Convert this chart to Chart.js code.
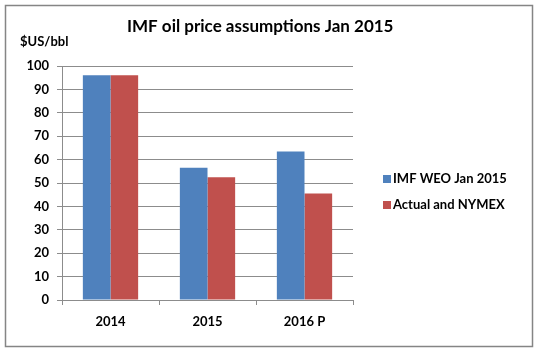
<!DOCTYPE html>
<html>
<head>
<meta charset="utf-8">
<script src="https://cdn.jsdelivr.net/npm/chart.js@4"></script>
<style>
  html, body { margin: 0; padding: 0; background: #fff; }
  #wrap { width: 540px; height: 353px; position: relative; }
</style>
</head>
<body>
<div id="wrap"><canvas id="oilChart" width="540" height="353"></canvas></div>
<script>
// ---- data ----
const categories = ['2014', '2015', '2016 P'];
const imfWeo = [96, 56.5, 63.5];
const actualNymex = [96, 52.5, 45.5];
const seriesNames = ['IMF WEO Jan 2015', 'Actual and NYMEX'];
const yTicks = [0, 10, 20, 30, 40, 50, 60, 70, 80, 90, 100];

const chartTitle = 'IMF oil price assumptions Jan 2015';
const unitLabel = '$US/bbl';

const FONT = 'Lato, "Open Sans", sans-serif';
const GRID = '#8c8c8c';

// title, unit label, legend and outer frame
const decorations = {
  id: 'decorations',
  afterDraw(chart) {
    const c = chart.ctx;
    c.save();
    c.strokeStyle = '#858585';
    c.lineWidth = 1.5;
    c.strokeRect(5.5, 5.5, 527, 341);

    c.fillStyle = '#000';
    c.textBaseline = 'middle';
    c.font = 'bold 17px ' + FONT;
    c.textAlign = 'left';
    c.fillText(chartTitle, 127, 27);

    c.font = 'bold 13px ' + FONT;
    c.fillText(unitLabel, 20, 42);

    // legend
    c.font = 'bold 13px ' + FONT;
    chart.data.datasets.forEach((ds, i) => {
      const y = 179 + i * 26;
      c.fillStyle = ds.backgroundColor;
      c.fillRect(383, y - 4, 8, 8);
      c.fillStyle = '#000';
      c.fillText(ds.label, 393, y);
    });
    c.restore();
  }
};

new Chart(document.getElementById('oilChart'), {
  type: 'bar',
  data: {
    labels: categories,
    datasets: [
      { label: seriesNames[0], data: imfWeo, backgroundColor: '#4f81bd' },
      { label: seriesNames[1], data: actualNymex, backgroundColor: '#c0504d' }
    ]
  },
  options: {
    responsive: false,
    animation: false,
    devicePixelRatio: 1,
    categoryPercentage: 0.57,
    barPercentage: 1.0,
    layout: { padding: { left: 0, top: 66, right: 187, bottom: 0 } },
    plugins: {
      legend: { display: false },
      tooltip: { enabled: false }
    },
    scales: {
      x: {
        grid: { drawOnChartArea: false, drawTicks: true, tickLength: 5, color: GRID, offset: true },
        border: { color: GRID, width: 1 },
        ticks: { color: '#000', padding: 9, font: { family: FONT, size: 13, weight: 'bold' } },
        afterFit: s => { s.height = 53; }
      },
      y: {
        min: 0,
        max: 100,
        afterBuildTicks: s => { s.ticks = yTicks.map(v => ({ value: v })); },
        grid: { color: GRID, tickLength: 5, drawTicks: true },
        border: { color: GRID, width: 1 },
        ticks: { color: '#000', padding: 8, font: { family: FONT, size: 13, weight: 'bold' } },
        afterFit: s => { s.width = 62; }
      }
    }
  },
  plugins: [decorations]
});
</script>
</body>
</html>
